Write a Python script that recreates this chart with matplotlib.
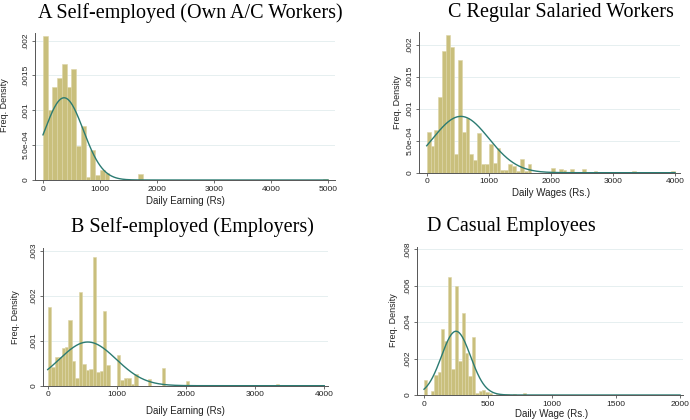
import numpy as np
import matplotlib
matplotlib.use('Agg')
import matplotlib.pyplot as plt

# bar heights (freq. density), one value per bin
a_width = 5000 / 60
a_heights = [.00206, .00101, .00134, .00147, .00166, .00134, .0016, .00049, .00078, .00005,
             .00043, .00007, .00014, .0001, 0, 0, 0, 0, 0, 0,
             .00008] + [0] * 38 + [.00002]
a_mean, a_sd = 370, 338

b_width = 50
b_heights = [.00176, .00042, .00063, .00064, .00083, .00087, .00146, .00056, .00018, .00209,
             .00049, .00035, .00037, .00285, .0003, .00032, .00165, .00047, 0, 0,
             .00068, .00013, .00018, .00017, .00003, .00025, 0, 0, 0, .00014,
             0, 0, 0, .00039, 0, 0, 0, 0, 0, 0,
             .00011] + [0] * 25 + [.00004] + [0] * 13
b_mean, b_sd = 580, 411

c_width = 62.5
c_heights = [.00064, .00041, .00066, .00119, .0019, .00215, .00197, .0003, .00177, .00064,
             .00085, .0003, .0002, .00062, .00014, .00014, .00045, .00015, .00038, .00004,
             .00004, .00014, .0001, .00003, .00022, .00003, .00014, 0, 0, 0,
             0, 0, .00007, 0, .00006, .00004, 0, .00006, 0, 0,
             .00006, 0, 0, .00002] + [0] * 9 + [.00002] + [0] * 9 + [.00002]
c_mean, c_sd = 550, 453

d_width = 2000 / 75
d_heights = [.0008, 0, .00024, .00112, .00127, .0036, .00294, .0065, .00141, .00597,
             .00186, .00448, .00229, .00104, .00316, .0001, .0002, .00026, .00015, .0001,
             0, .00008, .00008, 0, .00005, 0, .00006, 0, 0, .0001] + [0] * 45
d_mean, d_sd = 250, 114

bar_color = '#c9bf7c'
line_color = '#2b7b72'
W, H = 690, 420

fig = plt.figure(figsize=(6.9, 4.2), dpi=100)


def box(l, t, r, b):
    return [l / W, 1 - b / H, (r - l) / W, (b - t) / H]


def panel(rect, heights, width, mean, sd, xlim, ylim, xticks, yticks, ylabels, xlabel, xlab_pos, ylab_pos):
    ax = fig.add_axes(box(*rect))
    edges = np.arange(len(heights)) * width
    ax.bar(edges, heights, width=width, align='edge', color=bar_color,
           edgecolor='#ddd5a6', linewidth=0.4, zorder=2)
    xs = np.linspace(0, len(heights) * width, 600)
    ax.plot(xs, np.exp(-(xs - mean) ** 2 / (2 * sd ** 2)) / (sd * np.sqrt(2 * np.pi)),
            color=line_color, lw=1.0, zorder=3)
    ax.set_xlim(*xlim)
    ax.set_ylim(*ylim)
    ax.set_xticks(xticks)
    ax.set_xticklabels([str(t) for t in xticks], fontsize=6, family='Liberation Sans')
    ax.set_yticks(yticks)
    ax.set_yticklabels(ylabels, fontsize=6, family='Liberation Sans', rotation=90, va='center')
    for y in yticks[1:]:
        ax.axhline(y, color='#e6eff0', lw=0.7, zorder=1)
    for s in ['top', 'right']:
        ax.spines[s].set_visible(False)
    for s in ['left', 'bottom']:
        ax.spines[s].set_color('#555555')
        ax.spines[s].set_linewidth(0.7)
    ax.tick_params(length=2.5, width=0.6, color='#555555', pad=1.5, labelcolor='#222222')
    fig.text(xlab_pos[0] / W, 1 - xlab_pos[1] / H, xlabel, ha='center', va='center',
             fontsize=7, family='Liberation Sans', color='#222222')
    fig.text(ylab_pos[0] / W, 1 - ylab_pos[1] / H, 'Freq. Density', ha='center', va='center',
             rotation=90, fontsize=6.5, family='Liberation Sans', color='#222222')
    return ax


panel((35, 33, 335, 180), a_heights, a_width, a_mean, a_sd, (-140, 5123), (0, .00211),
      [0, 1000, 2000, 3000, 4000, 5000], [0, .0005, .001, .0015, .002],
      ['0', '5.0e-04', '.001', '.0015', '.002'], 'Daily Earning (Rs)', (185, 201), (5, 105))
panel((419, 32, 680, 172.7), c_heights, c_width, c_mean, c_sd, (-124, 4080), (0, .0022),
      [0, 1000, 2000, 3000, 4000], [0, .0005, .001, .0015, .002],
      ['0', '5.0e-04', '.001', '.0015', '.002'], 'Daily Wages (Rs.)', (551, 193), (398, 102))
panel((42.7, 248, 328, 385.7), b_heights, b_width, b_mean, b_sd, (-72, 4054), (0, .00306),
      [0, 1000, 2000, 3000, 4000], [0, .001, .002, .003],
      ['0', '.001', '.002', '.003'], 'Daily Earning (Rs)', (185, 411), (15, 317))
panel((416.7, 246.7, 683, 395), d_heights, d_width, d_mean, d_sd, (-57, 2023), (0, .00814),
      [0, 500, 1000, 1500, 2000], [0, .002, .004, .006, .008],
      ['0', '.002', '.004', '.006', '.008'], 'Daily Wage (Rs.)', (552, 414), (393, 320))

titles = [('A Self-employed (Own A/C Workers)', 190, 13),
          ('C Regular Salaried Workers', 561, 12),
          ('B Self-employed (Employers)', 192, 227),
          ('D Casual Employees', 511, 227)]
for txt, x, y in titles:
    fig.text(x / W, 1 - y / H, txt, ha='center', va='center', fontsize=14.5,
             family='Liberation Serif', color='black')

fig.savefig('out.png', dpi=100)
